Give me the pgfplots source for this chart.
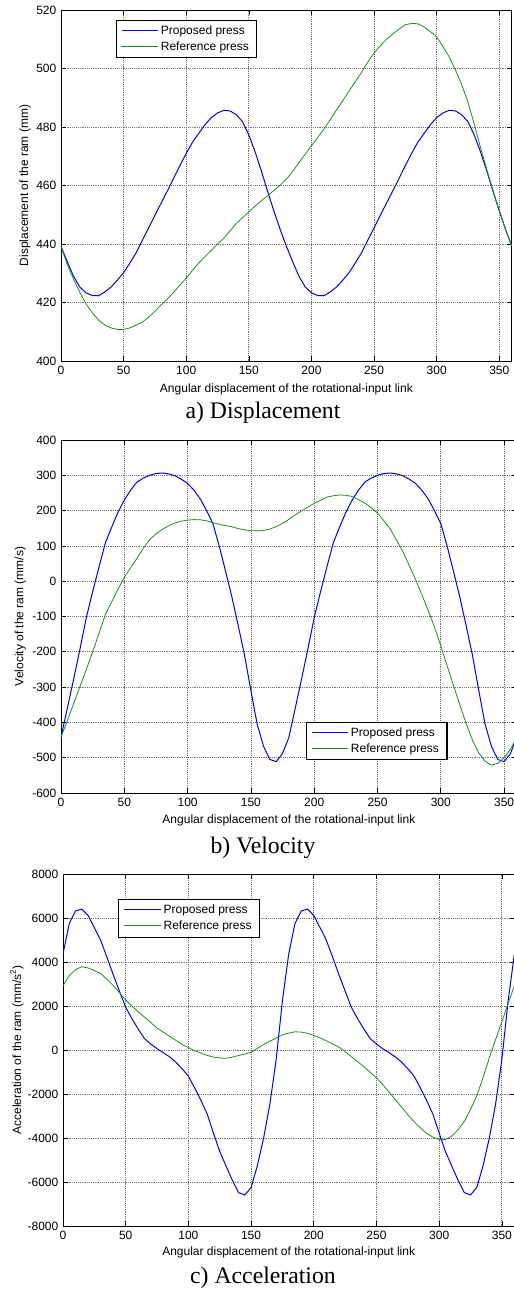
\documentclass[border=0pt]{standalone}
\usepackage{fontspec}
\setmainfont{Liberation Sans}
\newfontfamily\capfont{Liberation Serif}
\usepackage{pgfplots}
\usepackage{pgfplotstable}
\pgfplotsset{compat=1.18}

\definecolor{mblue}{RGB}{0,0,255}
\definecolor{mgreen}{RGB}{25,145,25}

% ram displacement (mm): proposed / reference press
\pgfplotstableread{
x p r
0 439.2 439.2
5 434.0 433.0
10 429.0 428.0
15 425.3 423.5
20 423.3 419.5
25 422.4 416.5
30 422.3 414.0
35 423.6 412.3
40 425.3 411.3
45 427.6 410.8
50 430.2 410.8
55 433.5 411.3
60 437.0 412.3
65 441.3 413.3
70 445.5 415.0
75 449.8 417.0
80 454.0 419.2
85 458.2 421.2
90 462.5 423.5
95 466.8 426.0
100 471.0 428.3
105 474.8 431.0
110 477.8 433.5
115 480.8 435.7
120 483.2 437.8
125 484.8 440.0
130 485.7 442.0
135 485.5 444.5
140 484.2 447.0
145 481.8 449.0
150 477.3 451.0
155 471.5 453.0
160 465.0 454.8
165 458.0 456.5
170 451.3 458.3
175 445.0 460.1
180 439.2 462.2
185 434.0 464.8
190 429.0 467.8
195 425.3 470.7
200 423.3 473.6
205 422.4 476.4
210 422.3 479.3
215 423.6 482.5
220 425.3 485.8
225 427.6 489.0
230 430.2 492.3
235 433.5 495.5
240 437.0 498.7
245 441.3 502.2
250 445.5 505.3
255 449.8 507.8
260 454.0 510.0
265 458.2 511.8
270 462.5 513.5
275 466.8 515.0
280 471.0 515.4
285 474.8 515.3
290 477.8 514.2
295 480.8 512.6
300 483.2 510.8
305 484.8 507.5
310 485.7 504.0
315 485.5 499.5
320 484.2 494.5
325 481.8 488.5
330 477.3 481.0
335 471.5 473.0
340 465.0 465.5
345 458.0 458.2
350 451.3 451.5
355 445.0 445.0
360 439.2 439.2
}\dispdata

% ram velocity (mm/s)
\pgfplotstableread{
x p r
0 -442 -442
5 -360 -395
10 -277 -347
15 -192 -298
20 -103 -250
25 -30 -200
30 40 -148
35 108 -95
40 153 -59
45 195 -23
50 230 11
55 258 38
60 281 65
65 292 93
70 300 118
75 305 134
80 306.5 147
85 304 157
90 299 165
95 289 170
100 277 173
105 258 174.5
110 233 174
115 200 171
120 163 166
125 99 161
130 28 157.5
135 -45 154
140 -126 149
145 -210 145.5
150 -310 143
155 -406 142.5
160 -468 144
165 -505 147.5
170 -511 155
175 -488 164
180 -442 175
185 -360 188
190 -277 199
195 -192 210
200 -103 220.5
205 -30 229
210 40 238
215 108 242
220 153 244.3
225 195 243.5
230 230 240
235 258 231
240 281 221
245 292 208
250 300 193
255 305 171
260 306.5 148
265 304 116
270 299 84
275 289 45
280 277 5
285 258 -38
290 233 -83
295 200 -130
300 163 -183
305 99 -240
310 28 -295
315 -45 -350
320 -126 -403
325 -210 -450
330 -310 -487
335 -406 -510
340 -468 -521
345 -505 -516
350 -511 -500
355 -488 -476
360 -442 -442
}\veldata

% ram acceleration (mm/s^2)
\pgfplotstableread{
x p r
0 4363 2924
5 5750 3390
10 6320 3650
15 6405 3788
20 6120 3730
25 5560 3610
30 4990 3475
35 4230 3220
40 3430 2930
45 2680 2610
50 1940 2280
55 1420 1990
60 950 1735
65 520 1495
70 270 1250
75 60 1000
80 -120 810
85 -310 630
90 -550 440
95 -850 255
100 -1190 110
105 -1720 -30
110 -2290 -140
115 -2910 -245
120 -3780 -320
125 -4610 -360
130 -5270 -378
135 -5910 -320
140 -6480 -250
145 -6590 -180
150 -6250 -106
155 -5260 70
160 -4000 250
165 -2460 400
170 -430 540
175 2240 690
180 4363 770
185 5750 828
190 6320 815
195 6405 760
200 6120 660
205 5560 550
210 4990 420
215 4230 280
220 3430 135
225 2680 -75
230 1940 -300
235 1420 -530
240 950 -760
245 520 -1010
250 270 -1270
255 60 -1570
260 -120 -1910
265 -310 -2250
270 -550 -2590
275 -850 -2940
280 -1190 -3260
285 -1720 -3540
290 -2290 -3790
295 -2910 -3960
300 -3780 -4060
305 -4610 -4070
310 -5270 -3920
315 -5910 -3630
320 -6480 -3250
325 -6590 -2700
330 -6250 -2080
335 -5260 -1250
340 -4000 -360
345 -2460 480
350 -430 1280
355 2240 2120
360 4363 2924
}\accdata

\pgfplotsset{
  matfig/.style={
    scale only axis,
    xmin=0, xmax=360,
    xtick={0,50,...,350},
    tick pos=both, tick align=inside,
    major tick length=3.5pt,
    tick style={black, line width=0.5pt},
    grid=major,
    grid style={densely dotted, black!55, line width=0.55pt},
    axis line style={black, line width=0.7pt},
    font=\fontsize{9}{10.8}\selectfont,
    /pgf/number format/1000 sep={},
    /pgf/number format/assume math mode=true,
    scaled y ticks=false,
    xlabel={Angular displacement of the rotational-input link},
    legend style={draw=black, line width=0.8pt, fill=white,
      font=\fontsize{9}{10.8}\selectfont, inner xsep=4pt, inner ysep=2pt},
    legend cell align=left,
    % legend sample set as a coloured rule, so the colour travels with the text
    legend image code/.code={\node[#1, draw=none, inner sep=0pt, anchor=west]
      at (0pt,0pt) {\rule[-0.4pt]{27.5pt}{0.8pt}};},
  },
  blueline/.style={color=mblue, line width=0.75pt},
  greenline/.style={color=mgreen, line width=0.6pt},
}

\begin{document}
\begin{tikzpicture}
\useasboundingbox (0,0) rectangle (385.5pt,-967.5pt);

% a) displacement
\begin{axis}[matfig,
  at={(45.75pt,-270.75pt)}, anchor=south west,
  width=338.1pt, height=263.25pt,
  ymin=400, ymax=520, ytick={400,420,...,520},
  ylabel={Displacement of the ram (mm)},
  every axis y label/.style={at={(axis description cs:-0.0732,0.5)},rotate=90,anchor=base},
  every axis x label/.style={at={(axis description cs:0.5,-0.0883)},anchor=base},
  legend style={at={(0.121,0.9715)}, anchor=north west},
]
\addplot[blueline] table[x=x,y=p]{\dispdata};
\addplot[greenline] table[x=x,y=r]{\dispdata};
\legend{Proposed press,Reference press}
\end{axis}
\node[anchor=base, font=\capfont\fontsize{17.8}{20}\selectfont] at (197.25pt,-313.5pt) {a) Displacement};

% b) velocity
\begin{axis}[matfig,
  at={(45.75pt,-594.75pt)}, anchor=south west,
  width=341.85pt, height=264.75pt,
  ymin=-600, ymax=400, ytick={-600,-500,...,400},
  ylabel={Velocity of the ram (mm/s)},
  every axis y label/.style={at={(axis description cs:-0.0823,0.5)},rotate=90,anchor=base},
  every axis x label/.style={at={(axis description cs:0.5,-0.0864)},anchor=base},
  legend style={at={(0.848,0.0935)}, anchor=south east},
]
\addplot[blueline] table[x=x,y=p]{\veldata};
\addplot[greenline] table[x=x,y=r]{\veldata};
\legend{Proposed press,Reference press}
\end{axis}
\node[anchor=base, font=\capfont\fontsize{17.8}{20}\selectfont] at (197.25pt,-639.75pt) {b) Velocity};

% c) acceleration
\begin{axis}[matfig,
  at={(47.25pt,-919.5pt)}, anchor=south west,
  width=338.55pt, height=264pt,
  ymin=-8000, ymax=8000, ytick={-8000,-6000,...,8000},
  ylabel={Acceleration of the ram (mm/s\textsuperscript{2})},
  every axis y label/.style={at={(axis description cs:-0.093,0.5)},rotate=90,anchor=base},
  every axis x label/.style={at={(axis description cs:0.5,-0.0824)},anchor=base},
  legend style={at={(0.1225,0.928)}, anchor=north west},
]
\addplot[blueline] table[x=x,y=p]{\accdata};
\addplot[greenline] table[x=x,y=r]{\accdata};
\legend{Proposed press,Reference press}
\end{axis}
\node[anchor=base, font=\capfont\fontsize{17.8}{20}\selectfont] at (197.25pt,-962.25pt) {c) Acceleration};
\end{tikzpicture}
\end{document}
